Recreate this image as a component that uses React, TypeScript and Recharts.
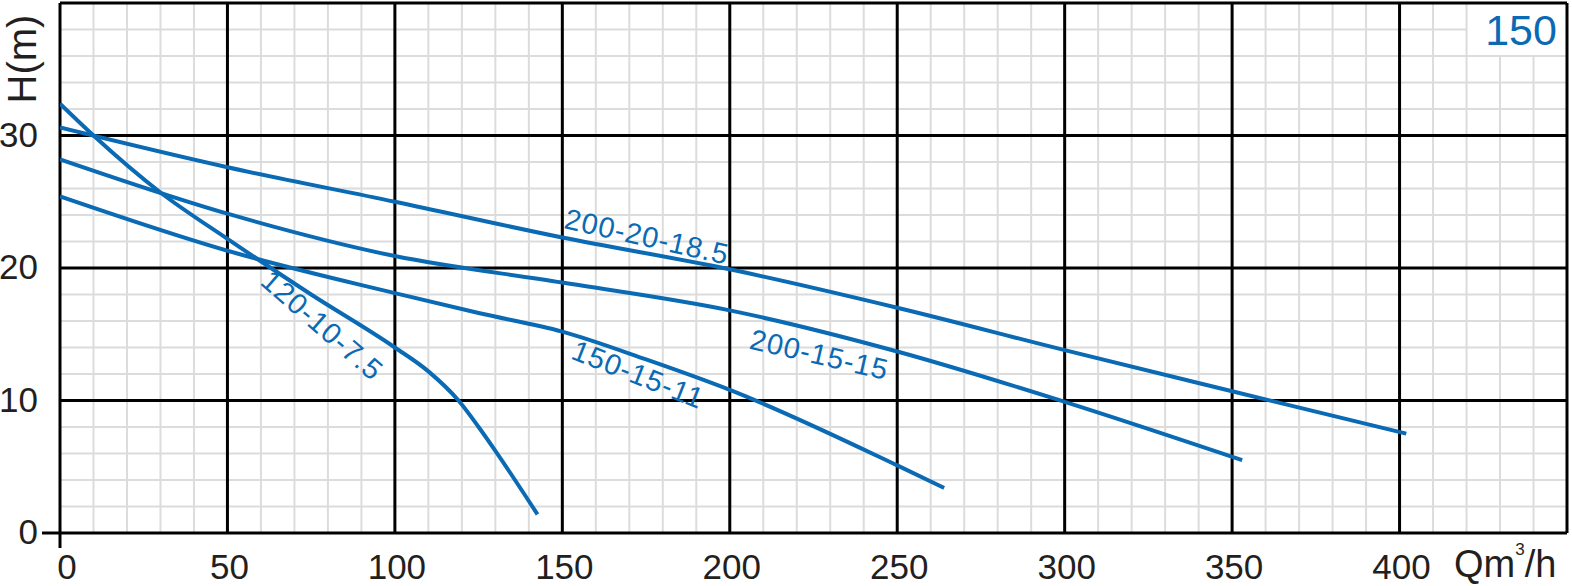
import { LineChart, Line, XAxis, YAxis, ReferenceLine, ReferenceDot } from "recharts";

const BLUE = "#0a6ab4";
const INK = "#231f20";
const FONT = "'Liberation Sans', Arial, sans-serif";

// axis ticks
const flowTicks = [0, 50, 100, 150, 200, 250, 300, 350, 400];
const headTicks = [0, 10, 20, 30];

// grid
const flowMajor = [0, 50, 100, 150, 200, 250, 300, 350, 400, 450];
const headMajor = [0, 10, 20, 30, 40];
const flowMinor = [
  10, 20, 30, 40, 60, 70, 80, 90, 110, 120, 130, 140, 160, 170, 180, 190, 210, 220, 230, 240,
  260, 270, 280, 290, 310, 320, 330, 340, 360, 370, 380, 390, 410, 420, 430, 440,
];
const headMinor = [2, 4, 6, 8, 12, 14, 16, 18, 22, 24, 26, 28, 32, 34, 36, 38];
// top-right corner kept clear of minor grid for the "150" tag
const tagQ = 420;
const tagH = 36;

// pump curves (Q m3/h, H m)
const flow200_20 = [0, 50, 100, 150, 200, 250, 300, 350, 402];
const head200_20 = [30.6, 27.6, 25.0, 22.3, 19.9, 17.0, 13.8, 10.7, 7.5];

const flow200_15 = [0, 50, 100, 150, 200, 250, 300, 353];
const head200_15 = [28.2, 24.1, 20.9, 18.9, 16.8, 13.7, 9.9, 5.5];

const flow150_15 = [0, 50, 100, 125, 150, 175, 200, 250, 264];
const head150_15 = [25.4, 21.3, 18.1, 16.6, 15.2, 13.1, 10.8, 5.1, 3.4];

const flow120_10 = [0, 10, 30, 50, 75, 100, 110, 119, 125, 130, 142.6];
const head120_10 = [32.4, 30.0, 25.7, 22.2, 18.0, 14.0, 12.2, 10.0, 8.0, 6.2, 1.4];

// curve labels: name, anchor point (Q, H), angle
const labelNames = ["200-20-18.5", "200-15-15", "150-15-11", "120-10-7.5"];
const labelQ = [175.3, 226.8, 172.7, 78.4];
const labelH = [22.4, 13.5, 12.0, 15.7];
const labelAngle = [12.7, 13, 21.5, 41];

const toRows = (q: number[], h: number[]) => q.map((v, i) => ({ q: v, h: h[i] }));

const curves = [
  { key: "200-20-18.5", rows: toRows(flow200_20, head200_20) },
  { key: "200-15-15", rows: toRows(flow200_15, head200_15) },
  { key: "150-15-11", rows: toRows(flow150_15, head150_15) },
  { key: "120-10-7.5", rows: toRows(flow120_10, head120_10) },
];

const FlowTick = (props: any) => {
  const { x, y, payload } = props;
  const v = payload.value;
  return (
    <g>
      {v === 0 && <line x1={x} y1={y} x2={x} y2={y + 15} stroke="#000" strokeWidth={3} />}
      <text x={x + (v === 0 ? 7 : 2)} y={y + 46} textAnchor="middle" fontSize={35} fill={INK} fontFamily={FONT}>
        {v}
      </text>
    </g>
  );
};

const HeadTick = (props: any) => {
  const { x, y, payload } = props;
  const v = payload.value;
  return (
    <g>
      {v === 0 && <line x1={x - 18} y1={y} x2={x} y2={y} stroke="#000" strokeWidth={3} />}
      <text x={x - 22} y={y + 11} textAnchor="end" fontSize={35} fill={INK} fontFamily={FONT}>
        {v}
      </text>
    </g>
  );
};

export default function App() {
  return (
    <div style={{ width: 1572, height: 586, background: "#fff" }}>
      <style>{"body{margin:0}"}</style>
      <LineChart width={1572} height={586} margin={{ top: 3, right: 5, bottom: 0, left: 0 }} style={{ fontFamily: FONT }}>
        <XAxis
          dataKey="q"
          type="number"
          domain={[0, 450]}
          ticks={flowTicks}
          allowDataOverflow
          height={53}
          axisLine={false}
          tickLine={false}
          tickSize={0}
          tickMargin={0}
          tick={<FlowTick />}
          label={{
            content: ({ viewBox }: any) => (
              <text x={viewBox.x + viewBox.width - 113} y={viewBox.y + 44} fontSize={38} fill={INK} fontFamily={FONT}>
                <tspan>Qm</tspan>
                <tspan fontSize={17} dy={-22}>3</tspan>
                <tspan dy={22}>/h</tspan>
              </text>
            ),
          }}
        />
        <YAxis
          type="number"
          domain={[0, 40]}
          ticks={headTicks}
          allowDataOverflow
          width={60}
          axisLine={false}
          tickLine={false}
          tickSize={0}
          tickMargin={0}
          tick={<HeadTick />}
          label={{
            content: ({ viewBox }: any) => (
              <text
                x={viewBox.x + 36}
                y={viewBox.y + 56}
                transform={`rotate(-90 ${viewBox.x + 36} ${viewBox.y + 56})`}
                textAnchor="middle"
                fontSize={40}
                fill={INK}
                fontFamily={FONT}
              >
                H(m)
              </text>
            ),
          }}
        />

        {flowMinor.map((v) => (
          <ReferenceLine
            key={`fm${v}`}
            segment={[{ x: v, y: 0 }, { x: v, y: v > tagQ ? tagH : 40 }]}
            stroke="#dcdcdc"
            strokeWidth={2}
          />
        ))}
        {headMinor.map((v) => (
          <ReferenceLine
            key={`hm${v}`}
            segment={[{ x: 0, y: v }, { x: v > tagH ? tagQ : 450, y: v }]}
            stroke="#dcdcdc"
            strokeWidth={2}
          />
        ))}
        {flowMajor.map((v) => (
          <ReferenceLine key={`fM${v}`} x={v} stroke="#000" strokeWidth={3} />
        ))}
        {headMajor.map((v) => (
          <ReferenceLine key={`hM${v}`} y={v} stroke="#000" strokeWidth={3} />
        ))}

        {curves.map((c) => (
          <Line
            key={c.key}
            data={c.rows}
            dataKey="h"
            type="monotone"
            stroke={BLUE}
            strokeWidth={4}
            dot={false}
            activeDot={false}
            isAnimationActive={false}
          />
        ))}

        <ReferenceDot
          x={447}
          y={38}
          r={1}
          shape={(p: any) => (
            <text x={p.cx} y={p.cy} dy="0.36em" textAnchor="end" fontSize={43} fill={BLUE} fontFamily={FONT}>
              150
            </text>
          )}
        />

        {labelNames.map((name, i) => (
          <ReferenceDot
            key={name}
            x={labelQ[i]}
            y={labelH[i]}
            r={1}
            shape={(p: any) => (
              <text
                x={p.cx}
                y={p.cy}
                dy="0.36em"
                textAnchor="middle"
                transform={`rotate(${labelAngle[i]} ${p.cx} ${p.cy})`}
                fontSize={29}
                letterSpacing={1}
                fill={BLUE}
                fontFamily={FONT}
              >
                {name}
              </text>
            )}
          />
        ))}
      </LineChart>
    </div>
  );
}
